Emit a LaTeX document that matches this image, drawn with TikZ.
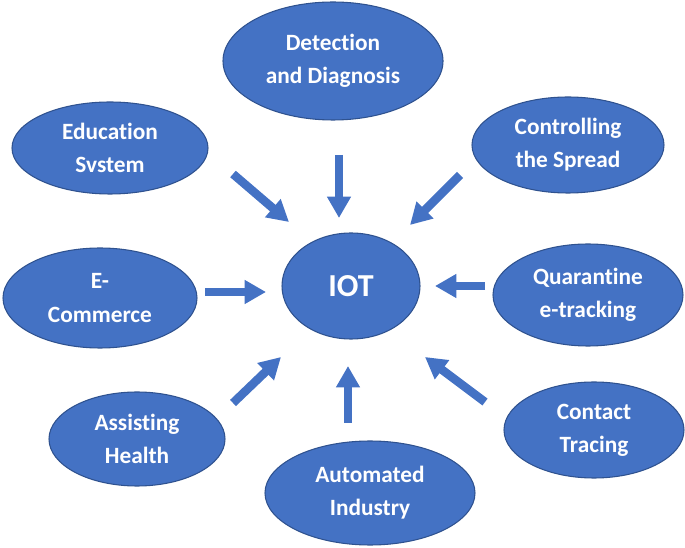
\documentclass[tikz,border=0pt]{standalone}
\usepackage{fontspec}
\setmainfont{Carlito}[Ligatures=NoCommon]
\usetikzlibrary{shapes.geometric,arrows.meta}
\definecolor{bfill}{HTML}{4472C4}
\definecolor{bdraw}{HTML}{2F528F}
\begin{document}
\begin{tikzpicture}[x=0.75pt,y=-0.75pt,
  bub/.style={ellipse,fill=bfill,draw=bdraw,line width=0.8pt,text=white,
    font=\bfseries\fontsize{17.5}{24.8}\selectfont,align=center,inner sep=0pt},
  blk/.style={draw=bfill,line width=6.4pt,-{Triangle[width=17pt,length=16pt]}}]
\useasboundingbox (0,0) rectangle (685,548);

\node[bub,minimum width=165pt,minimum height=88.5pt] (det) at (333,61) {Detection\\and Diagnosis};
\node[bub,minimum width=147pt,minimum height=69pt] (edu) at (110,148) {Education\\Svstem};
\node[bub,minimum width=144pt,minimum height=72pt] (ctl) at (568,145) {Controlling\\the Spread};
\node[bub,minimum width=145.5pt,minimum height=75pt] (ecom) at (100,298) {E-\\Commerce};
\node[bub,minimum width=142.5pt,minimum height=76.5pt] (qua) at (588,295) {Quarantine\\e-tracking};
\node[bub,minimum width=103.5pt,minimum height=79.5pt,font=\bfseries\fontsize{24}{28}\selectfont] (iot) at (351,286) {IOT};
\node[bub,minimum width=132pt,minimum height=70.5pt] (ast) at (137,439) {Assisting\\Health};
\node[bub,minimum width=135pt,minimum height=72pt] (con) at (594,430) {Contact\\Tracing};
\node[bub,minimum width=157.5pt,minimum height=78pt] (aut) at (370,493) {Automated\\Industry};

\coordinate (a1s) at (233,174); \coordinate (a1e) at (289,222);
\coordinate (a2s) at (339,155); \coordinate (a2e) at (339,218);
\coordinate (a3s) at (460,175); \coordinate (a3e) at (410,225);
\coordinate (a4s) at (205,292); \coordinate (a4e) at (266,292);
\coordinate (a5s) at (485,286); \coordinate (a5e) at (435,286);
\coordinate (a6s) at (233,403); \coordinate (a6e) at (281,357);
\coordinate (a7s) at (348,423); \coordinate (a7e) at (348,366);
\coordinate (a8s) at (485,402); \coordinate (a8e) at (425,357);

\draw[blk] (a1s) -- (a1e);
\draw[blk] (a2s) -- (a2e);
\draw[blk] (a3s) -- (a3e);
\draw[blk] (a4s) -- (a4e);
\draw[blk] (a5s) -- (a5e);
\draw[blk] (a6s) -- (a6e);
\draw[blk] (a7s) -- (a7e);
\draw[blk] (a8s) -- (a8e);
\end{tikzpicture}
\end{document}
